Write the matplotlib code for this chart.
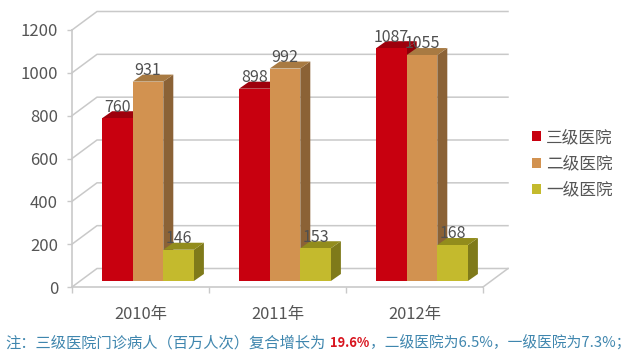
import matplotlib
matplotlib.use("Agg")
import matplotlib.pyplot as plt

plt.rcParams['font.family'] = ['Noto Sans CJK SC', 'DejaVu Sans']

years = ['2010年', '2011年', '2012年']
series_names = ['三级医院', '二级医院', '一级医院']
level3 = [760, 898, 1087]
level2 = [931, 992, 1055]
level1 = [146, 153, 168]
y_ticks = [0, 200, 400, 600, 800, 1000, 1200]

front_colors = ['#C8000F', '#D29250', '#C4BA2D']
top_colors = ['#9E000C', '#A87A42', '#928C1C']
side_colors = ['#8E0009', '#8B6236', '#7F7A1A']
GRID = '#C9C9C9'
TEXT = '#555555'

fig = plt.figure(figsize=(6.4, 3.6), dpi=100, facecolor='white')
ax = fig.add_axes([72 / 640, (360 - 287) / 360, 411 / 640, 257 / 360])
ax.set_xlim(0, 3)
ax.set_ylim(0, 1200)

# one pixel in data units, the fake 3D depth is given in pixels
PX = 3 / 411
PY = 1200 / 257


def wall():
    dx, dy = 25 * PX, 18.5 * PY
    for v in y_ticks:
        ax.plot([0, dx, 3 + dx], [v, v + dy, v + dy], color=GRID, lw=1.1,
                clip_on=False, zorder=1)
    ax.plot([3, 3 + dx], [0, dy], color=GRID, lw=1.1, clip_on=False, zorder=1)


def bar3d(x, value, width, i):
    x0 = x + 7.5 * PX
    base = 6 * PY
    dx, dy = 10 * PX, 7 * PY
    x1 = x0 + width
    top = base + value
    ax.fill([x1, x1 + dx, x1 + dx, x1], [base, base + dy, top + dy, top],
            color=side_colors[i], lw=0, clip_on=False, zorder=3 + i)
    ax.fill([x0, x0 + dx, x1 + dx, x1], [top, top + dy, top + dy, top],
            color=top_colors[i], lw=0, clip_on=False, zorder=3 + i)
    bars = ax.bar(x0, value, width, bottom=base, align='edge',
                  color=front_colors[i], lw=0, clip_on=False, zorder=3 + i)
    ax.annotate(str(value), (x0 + width / 2, top), xytext=(0, 8),
                textcoords='offset points', ha='center', va='center',
                fontsize=11.5, color='#505050', zorder=10, annotation_clip=False)
    return bars


wall()
bar_w = 30.6 * PX
handles = []
for i, values in enumerate([level3, level2, level1]):
    for j, v in enumerate(values):
        x = j + 0.5 + (i - 1.5) * bar_w
        b = bar3d(x, v, bar_w, i)
    handles.append(b[0])

for name in ['top', 'right']:
    ax.spines[name].set_visible(False)
for name in ['left', 'bottom']:
    ax.spines[name].set_color(GRID)
    ax.spines[name].set_linewidth(1.2)
ax.patch.set_visible(False)

ax.set_yticks(y_ticks)
ax.tick_params(axis='y', length=3.5, width=1, color=GRID, labelcolor=TEXT,
               labelsize=12, pad=6.5)
ax.set_xticks([0, 1, 2, 3])
ax.set_xticklabels([])
ax.set_xticks([0.5, 1.5, 2.5], years, minor=True)
ax.tick_params(axis='x', which='major', length=4.5, width=1, color=GRID)
ax.tick_params(axis='x', which='minor', length=0, labelcolor=TEXT,
               labelsize=11.8, pad=14)

fig.legend(handles, series_names, loc='center left',
           bbox_to_anchor=(520 / 640, 1 - 164 / 360), frameon=False,
           fontsize=12, labelcolor=TEXT, handlelength=0.55, handleheight=0.55,
           handletextpad=0.3, labelspacing=0.55, borderpad=0.2)

note_blue = '#3F86AE'
fig.text(5 / 640, 1 - 343 / 360, '注：三级医院门诊病人（百万人次）复合增长为',
         color=note_blue, fontsize=11, va='center')
fig.text(330 / 640, 1 - 343 / 360, '19.6%', color='#D8141E', fontsize=9.3,
         fontweight='bold', va='center')
fig.text(370 / 640, 1 - 343 / 360, '，二级医院为6.5%，一级医院为7.3%；',
         color=note_blue, fontsize=10.6, va='center')

fig.savefig('out.png', dpi=100)
